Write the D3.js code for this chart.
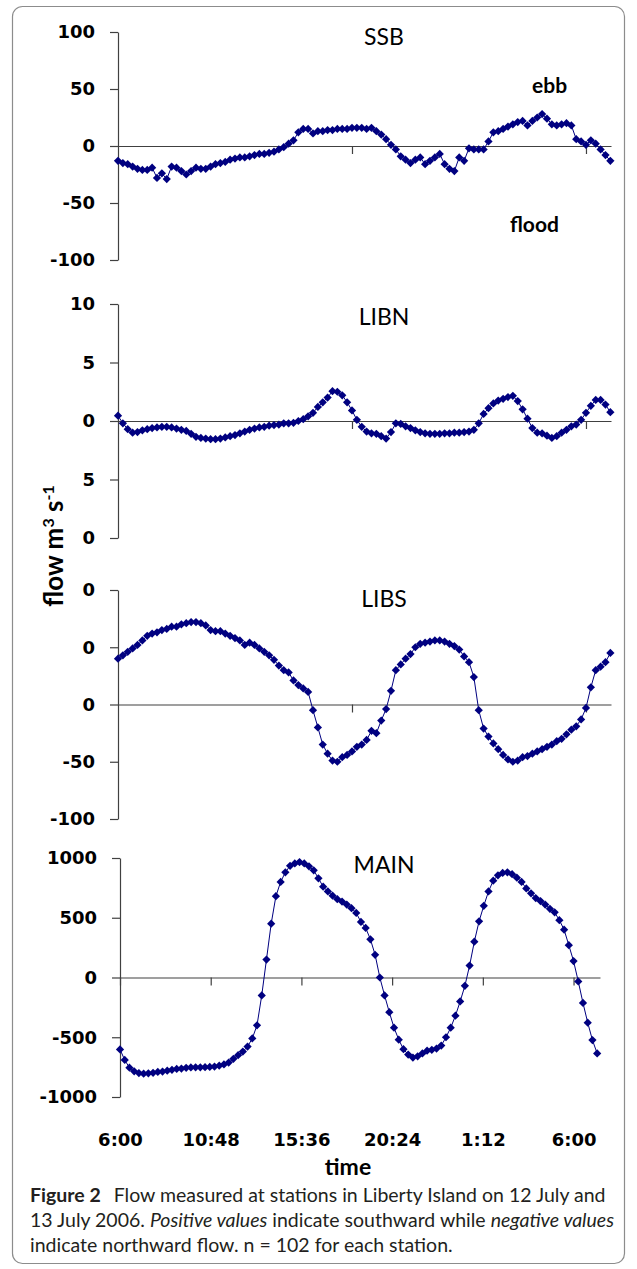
<!DOCTYPE html>
<html>
<head>
<meta charset="utf-8">
<title>Flow at Liberty Island stations</title>
<script src="https://d3js.org/d3.v7.min.js"></script>
<style>
  body { margin: 0; background: #fff; }
  svg { display: block; }
  .yaxis text, .xlabels text { font-family: "DejaVu Sans"; font-weight: bold; font-size: 18px; fill: #000; }
</style>
</head>
<body>
<div id="chart"></div>
<script>
// flow values, one per 15 min from 6:00 on 12 July (n = 102)
const ssbFlow = [
  -13, -15, -16, -18, -20, -21, -21, -19, -28, -24,
  -29, -18, -19, -22, -25, -22, -19, -20, -20, -18,
  -16, -15, -14, -12, -11, -10, -10, -9, -8, -7,
  -7, -6, -5, -3, -1, 2, 5, 12, 15, 15,
  11, 13, 13, 14, 14, 15, 15, 15, 16, 16,
  16, 15, 16, 13, 10, 6, 1, -3, -9, -12,
  -15, -12, -10, -16, -13, -10, -7, -16, -20, -22,
  -10, -13, -2, -3, -3, -3, 4, 12, 13, 15,
  17, 19, 21, 22, 18, 22, 25, 28, 24, 19,
  18, 19, 20, 18, 6, 4, 1, 5, 2, -3,
  -8, -13
];
const libnFlow = [
  0.45, -0.2, -0.7, -1.0, -0.95, -0.8, -0.7, -0.6, -0.55, -0.5,
  -0.5, -0.55, -0.65, -0.75, -0.85, -1.1, -1.35, -1.45, -1.5, -1.55,
  -1.55, -1.5, -1.4, -1.3, -1.2, -1.05, -0.9, -0.75, -0.65, -0.55,
  -0.5, -0.4, -0.35, -0.3, -0.2, -0.2, -0.15, 0.0, 0.15, 0.4,
  0.7, 1.2, 1.6, 2.0, 2.55, 2.5, 2.2, 1.6, 0.9, 0.1,
  -0.5, -0.9, -1.05, -1.1, -1.3, -1.5, -0.95, -0.2, -0.25, -0.45,
  -0.6, -0.8, -0.95, -1.05, -1.1, -1.1, -1.1, -1.05, -1.05, -1.0,
  -1.0, -0.95, -0.9, -0.75, -0.2, 0.6, 1.1, 1.5, 1.75, 1.9,
  2.05, 2.15, 1.7, 1.0, 0.2, -0.6, -1.0, -1.05, -1.25, -1.45,
  -1.3, -1.0, -0.75, -0.45, -0.3, 0.1, 0.7, 1.3, 1.8, 1.8,
  1.4, 0.75
];
const libsFlow = [
  40, 43, 46, 49, 52, 56, 60, 62, 63, 65,
  66, 68, 68, 70, 71, 72, 72, 71, 69, 65,
  64, 64, 62, 60, 58, 56, 52, 54, 52, 49,
  46, 43, 39, 34, 30, 28, 21, 17, 14, 11,
  -5, -20, -35, -43, -49, -50, -46, -44, -41, -37,
  -35, -31, -23, -25, -14, -4, 12, 30, 35, 40,
  44, 50, 53, 54, 55, 56, 56, 55, 53, 51,
  48, 42, 37, 24, -5, -21, -28, -34, -39, -44,
  -48, -50, -49, -46, -45, -43, -41, -39, -37, -35,
  -32, -30, -26, -22, -19, -13, -3, 15, 30, 33,
  37, 45
];
const mainFlow = [
  -602, -690, -755, -785, -800, -805, -802, -798, -790, -787,
  -780, -772, -765, -762, -756, -753, -752, -752, -751, -748,
  -745, -738, -728, -712, -680, -650, -620, -578, -510, -400,
  -150, 150, 450, 680, 800, 880, 935, 955, 966, 955,
  930, 897, 830, 760, 720, 685, 655, 635, 610, 580,
  540, 465, 415, 320, 190, 0, -150, -290, -420, -520,
  -600, -645, -670, -660, -635, -612, -605, -595, -570, -500,
  -420, -320, -200, -70, 100, 300, 470, 600, 720, 810,
  855, 875, 880, 865, 835, 800, 745, 705, 665, 640,
  610, 575, 545, 480, 400, 270, 138, -33, -213, -378,
  -524, -635
];

// y ticks and the labels as printed (left digits hidden behind the axis title)
const ssbTicks = [100, 50, 0, -50, -100];
const ssbTickLabels = ['100', '50', '0', '-50', '-100'];
const libnTicks = [10, 5, 0, -5, -10];
const libnTickLabels = ['10', '5', '0', '5', '0'];
const libsTicks = [100, 50, 0, -50, -100];
const libsTickLabels = ['0', '0', '0', '-50', '-100'];
const mainTicks = [1000, 500, 0, -500, -1000];
const mainTickLabels = ['1000', '500', '0', '-500', '-1000'];

// time ticks, minutes after 6:00
const halfDayTicks = [720, 1440];
const timeTicks = [0, 288, 576, 864, 1152, 1440];

const start = new Date(2006, 6, 12, 6, 0);
const times = d3.timeMinute.every(15).range(start, new Date(2006, 6, 13, 7, 30));

// layout of each panel
const panels = [
  { name: 'SSB', values: ssbFlow, ticks: ssbTicks, labels: ssbTickLabels, top: 32, bottom: 260, left: 118, right: 611, span: 1517, xTicks: halfDayTicks, titleY: 45 },
  { name: 'LIBN', values: libnFlow, ticks: libnTicks, labels: libnTickLabels, top: 304, bottom: 538, left: 118, right: 611, span: 1517, xTicks: halfDayTicks, titleY: 325 },
  { name: 'LIBS', values: libsFlow, ticks: libsTicks, labels: libsTickLabels, top: 590, bottom: 819, left: 118, right: 611, span: 1517, xTicks: halfDayTicks, titleY: 607 },
  { name: 'MAIN', values: mainFlow, ticks: mainTicks, labels: mainTickLabels, top: 858, bottom: 1097, left: 120, right: 600, span: 1524, xTicks: timeTicks, titleY: 873 }
];

const navy = '#000080';
const axisColor = '#404040';

// excel style diamond: a square turned 45 degrees
const diamond = {
  draw(context, size) {
    const r = Math.sqrt(size / 2);
    context.moveTo(0, -r);
    context.lineTo(r, 0);
    context.lineTo(0, r);
    context.lineTo(-r, 0);
    context.closePath();
  }
};

const svg = d3.select('#chart')
  .append('svg')
  .attr('width', 637)
  .attr('height', 1269);

// frame round figure and caption
svg.append('rect')
  .attr('x', 12.5)
  .attr('y', 6.5)
  .attr('width', 612)
  .attr('height', 1257)
  .attr('rx', 10)
  .attr('fill', 'none')
  .attr('stroke', '#8c8c8c')
  .attr('stroke-width', 1.2);

panels.forEach(p => {
  const x = d3.scaleTime()
    .domain([start, d3.timeMinute.offset(start, p.span)])
    .range([p.left, p.right]);

  const y = d3.scaleLinear()
    .domain([p.ticks[p.ticks.length - 1], p.ticks[0]])
    .range([p.bottom, p.top]);

  const g = svg.append('g');

  // y axis
  g.append('g')
    .attr('class', 'yaxis')
    .attr('transform', `translate(${p.left},0)`)
    .attr('color', axisColor)
    .call(d3.axisLeft(y)
      .tickValues(p.ticks)
      .tickFormat((d, i) => p.labels[i])
      .tickSize(8)
      .tickSizeOuter(0)
      .tickPadding(15))
    .call(a => a.selectAll('path, line').attr('stroke-width', 1.2));

  // zero line with time ticks hanging below
  g.append('g')
    .attr('transform', `translate(0,${y(0)})`)
    .attr('color', axisColor)
    .call(d3.axisBottom(x)
      .tickValues(p.xTicks.map(m => d3.timeMinute.offset(start, m)))
      .tickSize(8)
      .tickSizeOuter(0)
      .tickFormat(''))
    .call(a => a.selectAll('path, line').attr('stroke-width', 1.2));

  const pts = times.map((t, i) => ({ t, v: p.values[i] }));

  g.append('path')
    .datum(pts)
    .attr('fill', 'none')
    .attr('stroke', navy)
    .attr('stroke-width', 1)
    .attr('d', d3.line().x(d => x(d.t)).y(d => y(d.v)));

  g.selectAll('.pt')
    .data(pts)
    .enter()
    .append('path')
    .attr('class', 'pt')
    .attr('transform', d => `translate(${x(d.t)},${y(d.v)})`)
    .attr('d', d3.symbol().type(diamond).size(34))
    .attr('fill', navy);

  // station name
  g.append('text')
    .attr('x', 384)
    .attr('y', p.titleY)
    .attr('text-anchor', 'middle')
    .style('font-family', 'Lato')
    .style('font-size', '23px')
    .text(p.name);

  // time labels only under the last panel
  if (p.name === 'MAIN') {
    svg.append('g')
      .attr('class', 'xlabels')
      .attr('transform', 'translate(0,1133)')
      .call(d3.axisBottom(x)
        .tickValues(timeTicks.map(m => d3.timeMinute.offset(start, m)))
        .tickFormat(d3.timeFormat('%-H:%M'))
        .tickSize(0)
        .tickPadding(0))
      .call(a => a.select('.domain').remove());
  }
});

// ebb / flood notes
svg.append('text')
  .attr('x', 532).attr('y', 93)
  .style('font-family', 'Lato').style('font-weight', 'bold').style('font-size', '21px')
  .text('ebb');
svg.append('text')
  .attr('x', 510).attr('y', 232)
  .style('font-family', 'Lato').style('font-weight', 'bold').style('font-size', '21px')
  .text('flood');

// axis titles
const yTitle = svg.append('text')
  .attr('transform', 'translate(63,546) rotate(-90)')
  .attr('text-anchor', 'middle')
  .style('font-family', 'Lato')
  .style('font-weight', 'bold')
  .style('font-size', '26px');
yTitle.append('tspan').text('flow m');
yTitle.append('tspan').attr('dy', -9).style('font-size', '16px').text('3');
yTitle.append('tspan').attr('dy', 9).text(' s');
yTitle.append('tspan').attr('dy', -9).style('font-size', '16px').text('-1');

svg.append('text')
  .attr('x', 348)
  .attr('y', 1175)
  .attr('text-anchor', 'middle')
  .style('font-family', 'Lato')
  .style('font-weight', 'bold')
  .style('font-size', '23px')
  .text('time');

// caption
const caption = svg.append('g')
  .style('font-family', 'Lato')
  .style('font-size', '19.5px')
  .attr('fill', '#231f20');

const line1 = caption.append('text').attr('x', 30).attr('y', 1202);
line1.append('tspan').style('font-weight', 'bold').text('Figure 2');
line1.append('tspan').attr('dx', 8).text(' Flow measured at stations in Liberty Island on 12 July and');

const line2 = caption.append('text').attr('x', 30).attr('y', 1227);
line2.append('tspan').text('13 July 2006. ');
line2.append('tspan').style('font-style', 'italic').text('Positive values');
line2.append('tspan').text(' indicate southward while ');
line2.append('tspan').style('font-style', 'italic').text('negative values');

caption.append('text').attr('x', 30).attr('y', 1252)
  .text('indicate northward flow. n = 102 for each station.');
</script>
</body>
</html>
